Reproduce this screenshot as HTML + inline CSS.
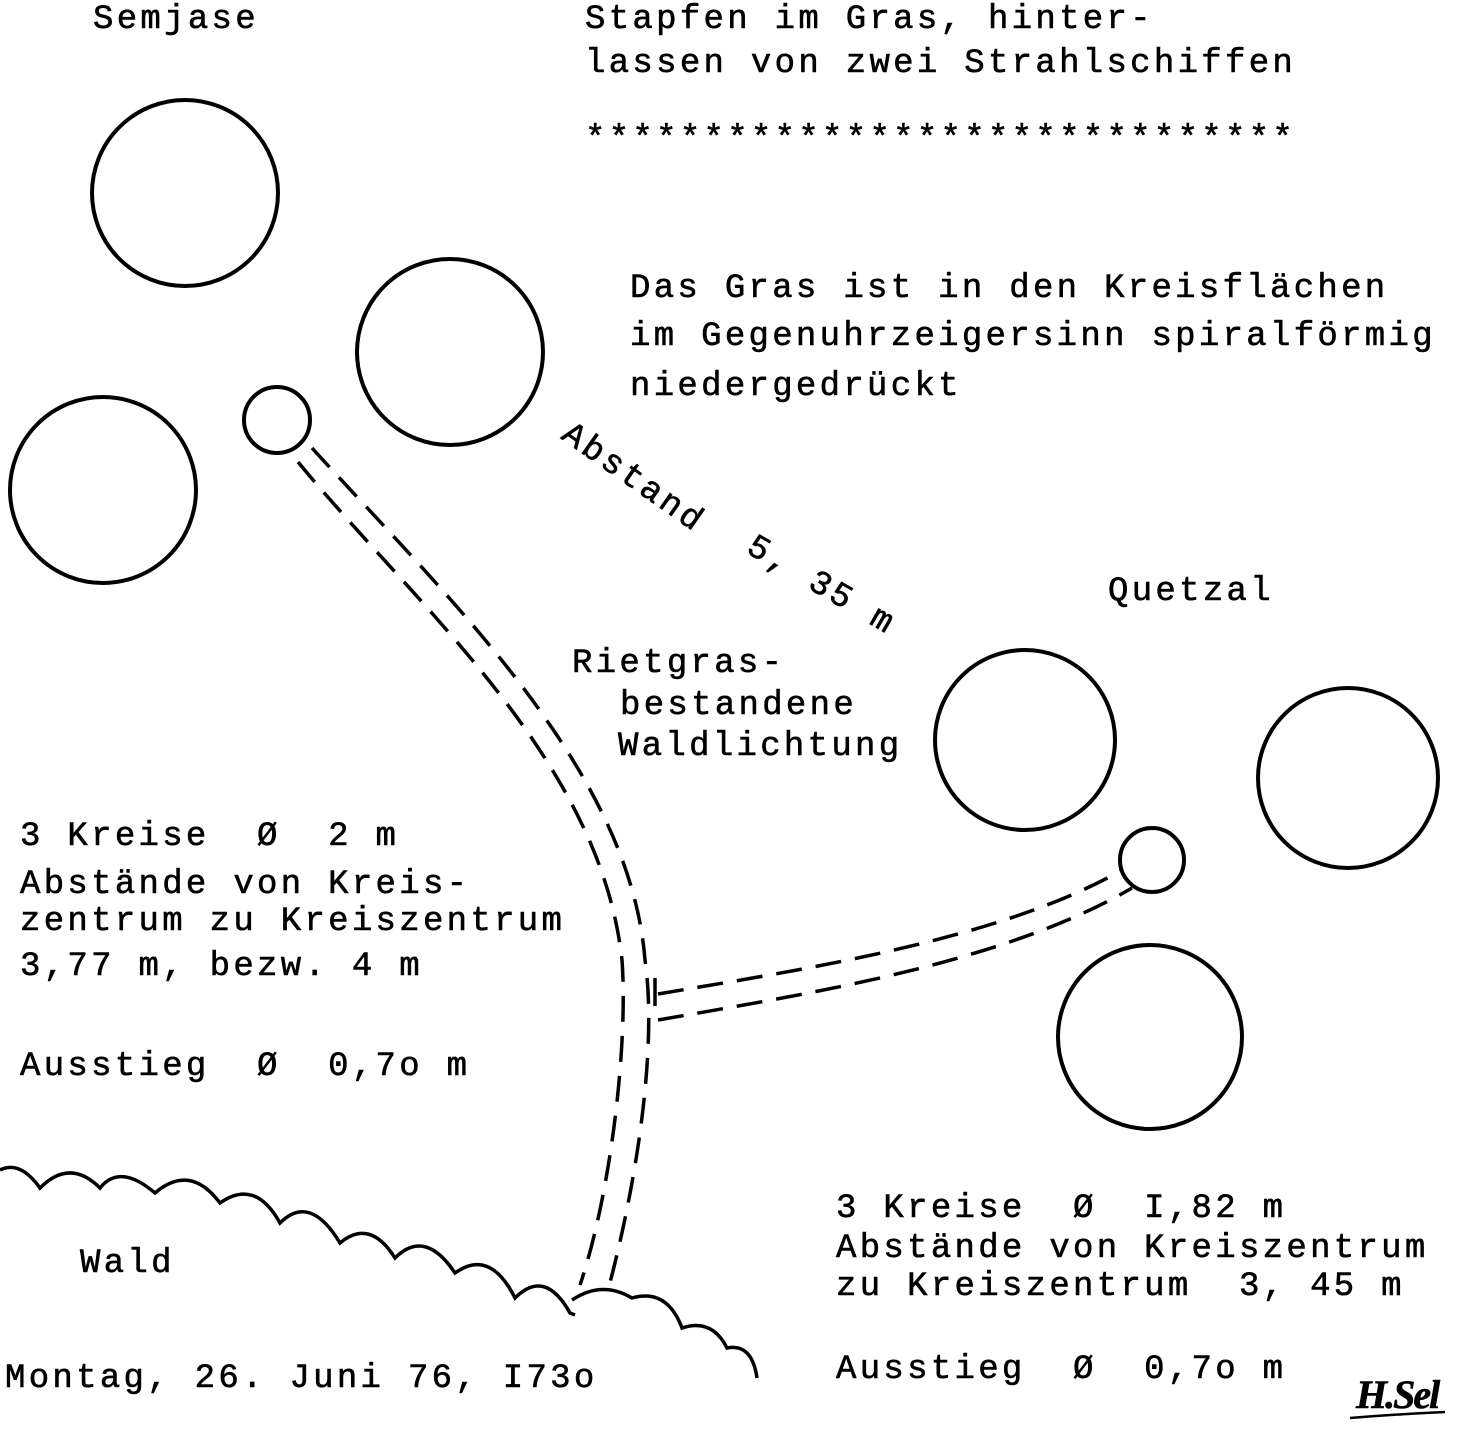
<!DOCTYPE html>
<html><head><meta charset="utf-8"><style>
html,body{margin:0;padding:0;background:#fff;}
svg{display:block}
text{font-family:"Liberation Mono",monospace;font-size:34px;letter-spacing:3.3px;fill:#000;white-space:pre;stroke:#000;stroke-width:0.6px;}
</style></head><body>
<svg width="1464" height="1435" viewBox="0 0 1464 1435" xmlns="http://www.w3.org/2000/svg" xml:space="preserve">
<g fill="none" stroke="#000" stroke-width="4">
<circle cx="185" cy="193" r="93"/>
<circle cx="450" cy="352" r="93"/>
<circle cx="103" cy="490" r="93"/>
<circle cx="277" cy="420" r="33"/>
<circle cx="1025" cy="740" r="90"/>
<circle cx="1348" cy="778" r="90"/>
<circle cx="1150" cy="1037" r="92"/>
<circle cx="1152" cy="860" r="32"/>
</g>
<g fill="none" stroke="#000" stroke-width="3.5" stroke-dasharray="26,14">
<path d="M298 462 C 420 610, 600 760, 622 960 C 628 1040, 612 1190, 580 1285"/>
<path d="M312 448 C 450 600, 630 770, 645 960 C 658 1050, 635 1190, 608 1290"/>
<path d="M658 994 C 800 970, 1000 940, 1122 870"/>
<path d="M658 1020 C 800 995, 1000 965, 1132 888"/>
</g>
<path d="M655 978 V 1006" stroke="#000" stroke-width="3.5"/>
<g fill="none" stroke="#000" stroke-width="3.5">
<path d="M0 1170 q20 -10 40 18 q30 -30 60 0 q20 -25 55 5 q35 -30 65 10 q35 -25 60 20 q30 -30 60 20 q30 -25 55 15 q30 -30 60 15 q35 -25 60 25 q30 -30 55 15 l5 2"/>
<path d="M572 1300 q30 -20 60 -2 q35 -10 50 30 q30 -10 45 20 q25 -5 30 30"/>
</g>
<text x="93" y="28">Semjase</text>
<text x="585" y="28">Stapfen im Gras, hinter-</text>
<text x="585" y="72">lassen von zwei Strahlschiffen</text>
<text x="585" y="148">******************************</text>
<text x="630" y="297">Das Gras ist in den Kreisflächen</text>
<text x="630" y="345">im Gegenuhrzeigersinn spiralförmig</text>
<text x="630" y="395">niedergedrückt</text>
<text transform="translate(560,438) rotate(35)">Abstand</text>
<text transform="translate(745,552) rotate(30)">5, 35 m</text>
<text x="1108" y="600">Quetzal</text>
<text x="572" y="672">Rietgras-</text>
<text x="620" y="714">bestandene</text>
<text x="618" y="755">Waldlichtung</text>
<text x="20" y="845">3 Kreise  Ø  2 m</text>
<text x="20" y="893">Abstände von Kreis-</text>
<text x="20" y="930">zentrum zu Kreiszentrum</text>
<text x="20" y="975">3,77 m, bezw. 4 m</text>
<text x="20" y="1075">Ausstieg  Ø  0,7o m</text>
<text x="80" y="1272">Wald</text>
<text x="5" y="1387">Montag, 26. Juni 76, I73o</text>
<text x="836" y="1217">3 Kreise  Ø  I,82 m</text>
<text x="836" y="1257">Abstände von Kreiszentrum</text>
<text x="836" y="1295">zu Kreiszentrum  3, 45 m</text>
<text x="836" y="1378">Ausstieg  Ø  0,7o m</text>
<text x="1356" y="1408" style="font-family:'Liberation Serif',serif;font-style:italic;font-weight:bold;font-size:40px;letter-spacing:-2px">H.Sel</text>
<path d="M1350 1418 q50 -4 95 -6" stroke="#000" stroke-width="2.5" fill="none"/>
</svg>
</body></html>
